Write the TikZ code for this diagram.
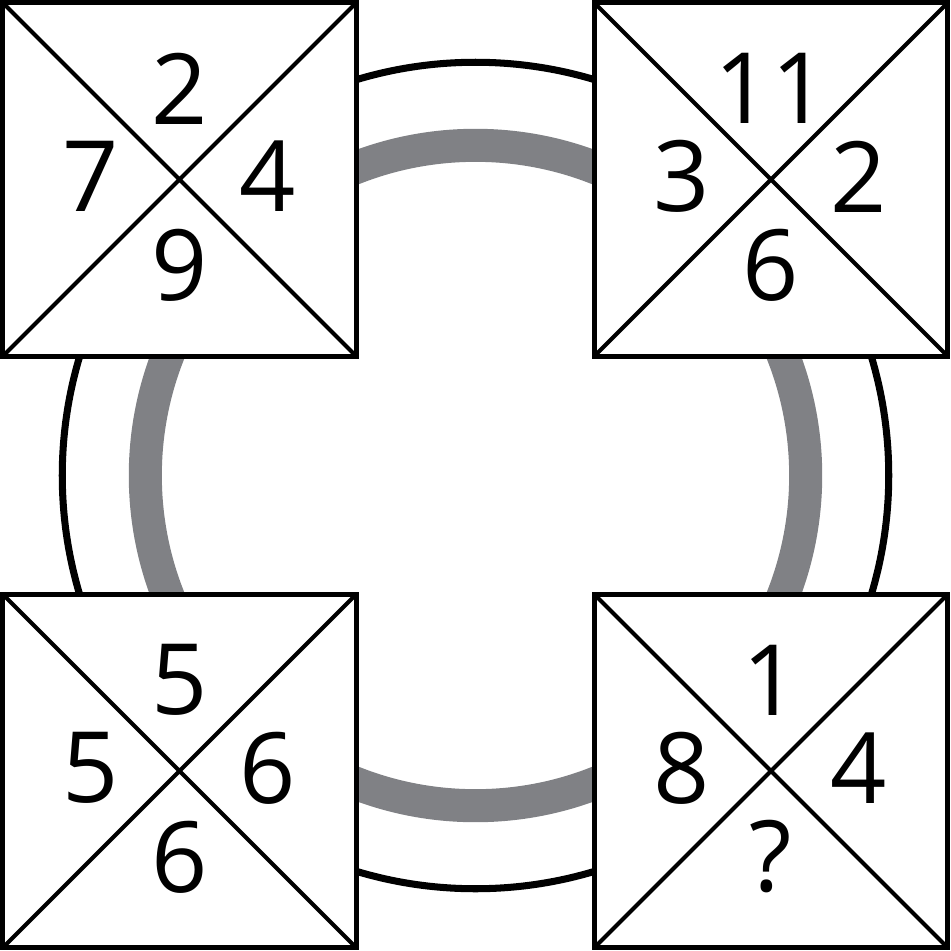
\documentclass[tikz,border=0pt]{standalone}
\usepackage{fontspec}
\setmainfont{Open Sans}
\definecolor{RingGray}{HTML}{808185}

\begin{document}
\begin{tikzpicture}[x=0.01cm,y=-0.01cm,
  cell/.style={draw, line width=1.42pt, fill=white, minimum size=3.53cm,
    inner sep=0pt, outer sep=0pt},
  diag/.style={line width=1.14pt},
  num/.style={inner sep=0pt, font=\fontsize{28}{30}\selectfont}]

  %–– Marco de la figura ––
  \useasboundingbox (0,0) rectangle (951,951);

  %–– Anillos ––
  \coordinate (c) at (475.5,475.5);
  \draw[line width=2pt] (c) circle[radius=4.13cm];
  \draw[RingGray, line width=9.4pt] (c) circle[radius=3.30cm];

  %–– Cuadros con diagonales ––
  \foreach \name/\x/\y in {tl/179.5/179.5, tr/771/179.5, bl/179.5/771, br/771/771}{
    \node[cell] (\name) at (\x,\y) {};
    \draw[diag] (\name.north west) -- (\name.south east)
                (\name.north east) -- (\name.south west);
  }

  %–– Números (arriba/izquierda/derecha/abajo) ––
  \foreach \name/\t/\l/\r/\b in {tl/2/7/4/9, tr/11/3/2/6, bl/5/5/6/6, br/1/8/4/?}{
    \node[num] (\name-t) at ([shift={(0,-91)}]\name) {\t};
    \node[num] (\name-l) at ([shift={(-89,-3)}]\name) {\l};
    \node[num] (\name-r) at ([shift={(88,-3)}]\name) {\r};
    \node[num] (\name-b) at ([shift={(0,86)}]\name) {\b};
  }

\end{tikzpicture}
\end{document}
